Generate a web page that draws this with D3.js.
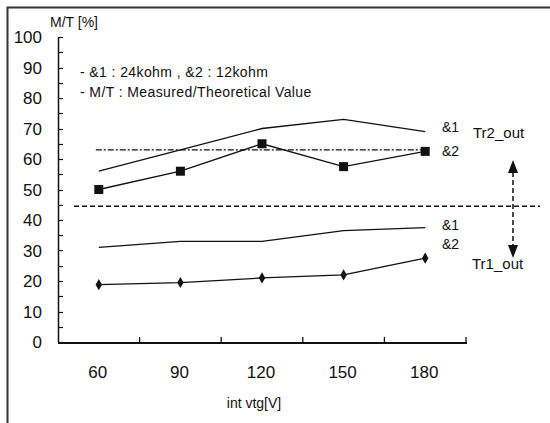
<!DOCTYPE html>
<html>
<head>
<meta charset="utf-8">
<style>
  body { margin: 0; background: #fff; }
  text { font-family: "Liberation Sans", Arial, sans-serif; fill: #111; }
</style>
</head>
<body>
<script src="https://d3js.org/d3.v7.min.js"></script>
<script>

// categories and series
var voltages = [60, 90, 120, 150, 180];
var upper1 = [56, 63, 70, 73, 69];      // &1, Tr2_out, no markers
var upper2 = [50, 56, 65, 57.5, 62.5];  // &2, Tr2_out, squares
var lower1 = [31, 33, 33, 36.5, 37.5];  // &1, Tr1_out, no markers
var lower2 = [18.8, 19.5, 21, 22, 27.5];// &2, Tr1_out, diamonds
var yTicks = [0, 10, 20, 30, 40, 50, 60, 70, 80, 90, 100];
var dashDotLevel = 63;
var dashLevel = 44.5;

var w = 550, h = 423;
var ink = '#111';

var svg = d3.select('body').append('svg')
    .attr('width', w)
    .attr('height', h);

// outer frame (top and left edges only)
svg.append('path')
    .attr('d', 'M7.5,423 V7.5 H550')
    .attr('fill', 'none')
    .attr('stroke', '#333')
    .attr('stroke-width', 2);

var x = d3.scaleBand().domain(voltages).range([58, 466]).padding(0);
var y = d3.scaleLinear().domain([0, 100]).range([342, 37]);
var cx = function(v){ return x(v) + x.bandwidth() / 2; };

// y axis: line, inward ticks every 5
svg.append('line')
    .attr('x1', 58.5).attr('x2', 58.5)
    .attr('y1', y(100)).attr('y2', y(0))
    .attr('stroke', ink).attr('stroke-width', 1.5);

svg.selectAll('.ytick')
    .data(d3.range(0, 101, 5))
    .enter().append('line')
    .attr('x1', 58).attr('x2', 63)
    .attr('y1', function(d){ return Math.round(y(d)) + 0.5; })
    .attr('y2', function(d){ return Math.round(y(d)) + 0.5; })
    .attr('stroke', ink).attr('stroke-width', 1.2);

svg.selectAll('.ylab')
    .data(yTicks)
    .enter().append('text')
    .attr('x', 42)
    .attr('y', function(d){ return y(d) + 6; })
    .attr('text-anchor', 'end')
    .style('font-size', '17px')
    .text(function(d){ return d; });

// x axis: line, upward ticks on band edges
svg.append('line')
    .attr('x1', 58).attr('x2', 467)
    .attr('y1', 343).attr('y2', 343)
    .attr('stroke', ink).attr('stroke-width', 2);

svg.selectAll('.xtick')
    .data(voltages)
    .enter().append('line')
    .attr('x1', function(d){ return x(d) + x.bandwidth(); })
    .attr('x2', function(d){ return x(d) + x.bandwidth(); })
    .attr('y1', 342).attr('y2', 337)
    .attr('stroke', ink).attr('stroke-width', 1.3);

svg.selectAll('.xlab')
    .data(voltages)
    .enter().append('text')
    .attr('x', function(d){ return cx(d) - 1; })
    .attr('y', 378)
    .attr('text-anchor', 'middle')
    .style('font-size', '17px')
    .text(function(d){ return d; });

svg.append('text')
    .attr('x', 254).attr('y', 408)
    .attr('text-anchor', 'middle')
    .style('font-size', '14px')
    .text('int vtg[V]');

svg.append('text')
    .attr('x', 50).attr('y', 27)
    .style('font-size', '14px')
    .text('M/T [%]');

// legend notes
svg.append('text')
    .attr('x', 80).attr('y', 77)
    .style('font-size', '14px')
    .style('letter-spacing', '0.4px')
    .attr('xml:space', 'preserve')
    .text('- &1 : 24kohm , &2 : 12kohm');
svg.append('text')
    .attr('x', 80).attr('y', 97)
    .style('font-size', '14px')
    .style('letter-spacing', '0.4px')
    .text('- M/T : Measured/Theoretical Value');

// reference lines
svg.append('line')
    .attr('x1', cx(60) - 3).attr('x2', cx(180))
    .attr('y1', y(dashDotLevel)).attr('y2', y(dashDotLevel))
    .attr('stroke', ink).attr('stroke-width', 1.2)
    .attr('stroke-dasharray', '6,2,2,2');

svg.append('line')
    .attr('x1', 74).attr('x2', 540)
    .attr('y1', y(dashLevel)).attr('y2', y(dashLevel))
    .attr('stroke', ink).attr('stroke-width', 1.5)
    .attr('stroke-dasharray', '5,3');

// series lines
var line = d3.line()
    .x(function(d, i){ return cx(voltages[i]); })
    .y(function(d){ return y(d); });

[upper1, upper2, lower1, lower2].forEach(function(s){
  svg.append('path')
      .attr('d', line(s))
      .attr('fill', 'none')
      .attr('stroke', ink)
      .attr('stroke-width', 1.3);
});

svg.selectAll('.sq')
    .data(upper2)
    .enter().append('rect')
    .attr('x', function(d, i){ return cx(voltages[i]) - 4.5; })
    .attr('y', function(d){ return y(d) - 4.5; })
    .attr('width', 9).attr('height', 9)
    .attr('fill', ink);

svg.selectAll('.dia')
    .data(lower2)
    .enter().append('path')
    .attr('d', d3.symbol().type(d3.symbolDiamond).size(36))
    .attr('transform', function(d, i){
      return 'translate(' + cx(voltages[i]) + ',' + y(d) + ')';
    })
    .attr('fill', ink);

// series labels
var labs = [
  {t: '&1', v: upper1[4] + 1.5},
  {t: '&2', v: upper2[4]},
  {t: '&1', v: lower1[4] + 1},
  {t: '&2', v: lower2[4] + 4.5}
];
svg.selectAll('.slab')
    .data(labs)
    .enter().append('text')
    .attr('x', 442)
    .attr('y', function(d){ return y(d.v) + 5; })
    .style('font-size', '14px')
    .text(function(d){ return d.t; });

// Tr2 / Tr1 arrow
var ax = 513;
svg.append('line')
    .attr('x1', ax).attr('x2', ax)
    .attr('y1', 172).attr('y2', 247)
    .attr('stroke', ink).attr('stroke-width', 1.5)
    .attr('stroke-dasharray', '5,3');
svg.append('path')
    .attr('d', 'M' + ax + ',160 L' + (ax - 5) + ',173 L' + (ax + 5) + ',173 Z')
    .attr('fill', ink);
svg.append('path')
    .attr('d', 'M' + ax + ',258 L' + (ax - 5) + ',245 L' + (ax + 5) + ',245 Z')
    .attr('fill', ink);

svg.append('text')
    .attr('x', 473).attr('y', 138)
    .style('font-size', '15px')
    .text('Tr2_out');
svg.append('text')
    .attr('x', 472).attr('y', 269)
    .style('font-size', '15px')
    .text('Tr1_out');

</script>
</body>
</html>
